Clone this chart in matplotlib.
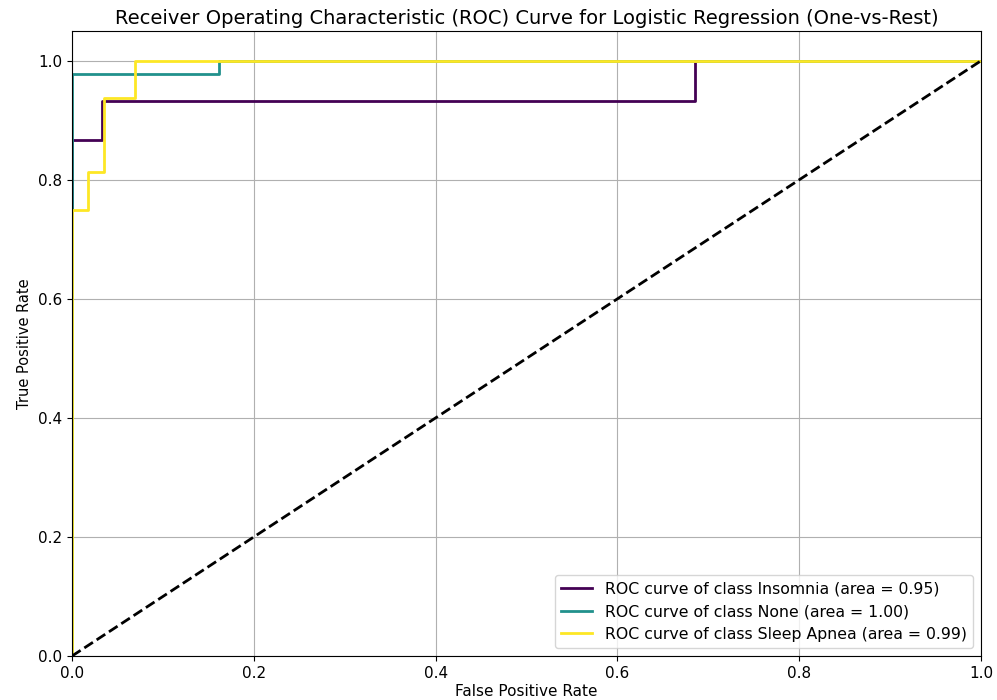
import numpy as np
import matplotlib
matplotlib.use("Agg")
import matplotlib.pyplot as plt

# ROC curves (one-vs-rest, logistic regression)
classes = ["Insomnia", "None", "Sleep Apnea"]
areas = [0.95, 1.00, 0.99]

fpr_insomnia = [0.0, 0.0, 0.0, 0.0333, 0.0333, 0.685, 0.685, 1.0]
tpr_insomnia = [0.0, 0.0, 0.867, 0.867, 0.933, 0.933, 1.0, 1.0]

fpr_none = [0.0, 0.0, 0.0, 0.162, 0.162, 1.0]
tpr_none = [0.0, 0.0, 0.977, 0.977, 1.0, 1.0]

fpr_apnea = [0.0, 0.0, 0.0, 0.018, 0.018, 0.0357, 0.0357, 0.069, 0.069, 1.0]
tpr_apnea = [0.0, 0.0, 0.75, 0.75, 0.8125, 0.8125, 0.9375, 0.9375, 1.0, 1.0]

fprs = [fpr_insomnia, fpr_none, fpr_apnea]
tprs = [tpr_insomnia, tpr_none, tpr_apnea]
colors = ["#440154", "#21918c", "#fde725"]

fig = plt.figure(figsize=(9.97, 7.0), dpi=100)
ax = fig.add_axes([72 / 997, 44 / 700, 909 / 997, 625 / 700])

for name, area, fpr, tpr, c in zip(classes, areas, fprs, tprs, colors):
    ax.plot(fpr, tpr, color=c, lw=2,
            label='ROC curve of class %s (area = %0.2f)' % (name, area))

ax.plot([0, 1], [0, 1], 'k--', lw=2)
ax.set_xlim([0.0, 1.0])
ax.set_ylim([0.0, 1.05])
ax.set_xlabel('False Positive Rate', fontsize=11, labelpad=2)
ax.set_ylabel('True Positive Rate', fontsize=10.5)
ax.tick_params(labelsize=11)
ax.set_title('Receiver Operating Characteristic (ROC) Curve for Logistic Regression (One-vs-Rest)',
             fontsize=14, pad=5)
ax.legend(loc="lower right", fontsize=11.3)
ax.grid(True)

fig.savefig("out.png", dpi=100)
